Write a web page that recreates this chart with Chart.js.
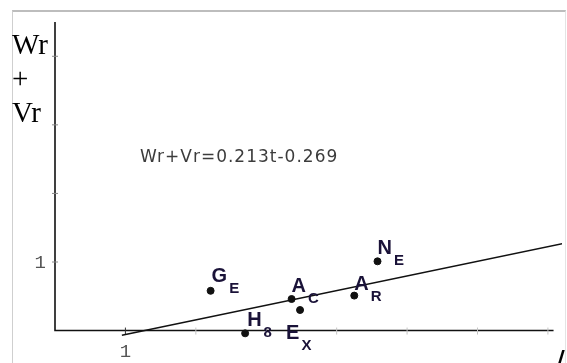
<!DOCTYPE html>
<html>
<head>
<meta charset="utf-8">
<script src="https://cdn.jsdelivr.net/npm/chart.js@4.4.1/dist/chart.umd.min.js"></script>
<style>
  html, body { margin: 0; padding: 0; background: #fff; }
  #marco { position: relative; width: 567px; height: 363px; overflow: hidden; }
  #borde { position: absolute; left: 12px; top: 10px; width: 552px; height: 360px;
           border-top: 2px solid #bdbdbd; border-left: 1px solid #cfcfcf; border-right: 1px solid #e4e4e4; }
  canvas { position: absolute; left: 0; top: 0; }
</style>
</head>
<body>
<div id="marco"><div id="borde"></div><canvas id="canvas-recta" width="567" height="363"></canvas></div>
<script>
// puntos: letra principal + subindice
let letras = ["G", "A", "E", "H", "A", "N"]
let subindices = ["E", "C", "X", "8", "R", "E"]
let tiempos = [2.21, 3.36, 3.48, 2.70, 4.25, 4.58]
let valores = [0.58, 0.46, 0.30, -0.04, 0.51, 1.01]

// recta de ajuste Wr+Vr = 0.213t - 0.269
let pendiente = 0.213
let ordenada = -0.269
let tramoRecta = [0.95, 7.25]

let ticksX = [1, 2, 3, 4, 5, 6, 7]
let etiquetasX = ["1", "", "", "", "", "", ""]
let ticksY = [1, 2, 3, 4]
let etiquetasY = ["1", "", "", ""]

// donde va cada etiqueta respecto a su punto (px)
let desplazamientos = [[1, -9], [0, -7], [-14, 29], [2, -7], [0, -6], [0, -7]]

var puntos = tiempos.map((t, i) => ({ x: t, y: valores[i] }))
var recta = tramoRecta.map(t => ({ x: t, y: pendiente * t + ordenada }))

const ejes = {
  id: "ejes",
  beforeDatasetsDraw(chart) {
    const c = chart.ctx, sx = chart.scales.x, sy = chart.scales.y
    const x0 = sx.getPixelForValue(0), y0 = sy.getPixelForValue(0)
    c.save()
    // ejes en cruz
    c.strokeStyle = "#111"
    c.lineWidth = 1.6
    c.beginPath()
    c.moveTo(x0, sy.getPixelForValue(4.5))
    c.lineTo(x0, y0)
    c.lineTo(sx.getPixelForValue(7.08), y0)
    c.stroke()

    c.lineWidth = 1
    ticksY.forEach((v, i) => {
      const py = sy.getPixelForValue(v)
      c.strokeStyle = "#888"
      c.beginPath(); c.moveTo(x0 - 3, py); c.lineTo(x0 + 3, py); c.stroke()
      if (etiquetasY[i]) {
        c.fillStyle = "#555"
        c.font = "19px 'Liberation Mono'"
        c.textAlign = "right"
        c.fillText(etiquetasY[i], x0 - 9, py + 6)
      }
    })
    ticksX.forEach((v, i) => {
      const px = sx.getPixelForValue(v)
      c.strokeStyle = etiquetasX[i] ? "#333" : "#c4c4c4"
      c.beginPath(); c.moveTo(px, y0 - 3); c.lineTo(px, y0 + 4); c.stroke()
      if (etiquetasX[i]) {
        c.fillStyle = "#555"
        c.font = "19px 'Liberation Mono'"
        c.textAlign = "center"
        c.fillText(etiquetasX[i], px, y0 + 26)
      }
    })

    // titulo del eje vertical
    c.fillStyle = "#000"
    c.textAlign = "left"
    c.font = "29px 'Liberation Serif'"
    c.fillText("Wr", 12, 54)
    c.fillText("+", 12, 88)
    c.fillText("Vr", 12, 122)
    // rotulo del eje t, cortado en el borde
    c.font = "bold 24px 'DejaVu Sans'"
    c.fillText("/", 556, 368)

    // ecuacion
    c.fillStyle = "#3c3c3c"
    c.font = "17px 'DejaVu Sans'"
    c.letterSpacing = "1px"
    c.fillText("Wr+Vr=" + pendiente + "t" + ordenada, 140, 162)
    c.restore()
  },
  afterDatasetsDraw(chart) {
    const c = chart.ctx, meta = chart.getDatasetMeta(1)
    c.save()
    c.fillStyle = "#1a1238"
    c.textAlign = "left"
    meta.data.forEach((p, i) => {
      const bx = p.x + desplazamientos[i][0], by = p.y + desplazamientos[i][1]
      c.font = "bold 20px 'Liberation Sans'"
      c.fillText(letras[i], bx, by)
      const w = c.measureText(letras[i]).width
      c.font = "bold 15px 'Liberation Sans'"
      c.fillText(subindices[i], bx + w + 2, by + 11)
    })
    c.restore()
  }
}

var ctx = document.getElementById("canvas-recta").getContext("2d")
var grafico = new Chart(ctx, {
  type: "scatter",
  data: {
    datasets: [
      {
        type: "line",
        data: recta,
        borderColor: "#111",
        borderWidth: 1.5,
        pointRadius: 0,
        fill: false
      },
      {
        data: puntos,
        backgroundColor: "#111",
        borderColor: "#111",
        pointRadius: 3.5
      }
    ]
  },
  options: {
    responsive: false,
    animation: false,
    layout: { padding: { left: 55, right: 1, top: 22, bottom: 5 } },
    plugins: { legend: { display: false }, tooltip: { enabled: false } },
    scales: {
      x: { type: "linear", display: false, min: 0, max: 7.2 },
      y: { type: "linear", display: false, min: -0.4, max: 4.5 }
    }
  },
  plugins: [ejes]
})
</script>
</body>
</html>
